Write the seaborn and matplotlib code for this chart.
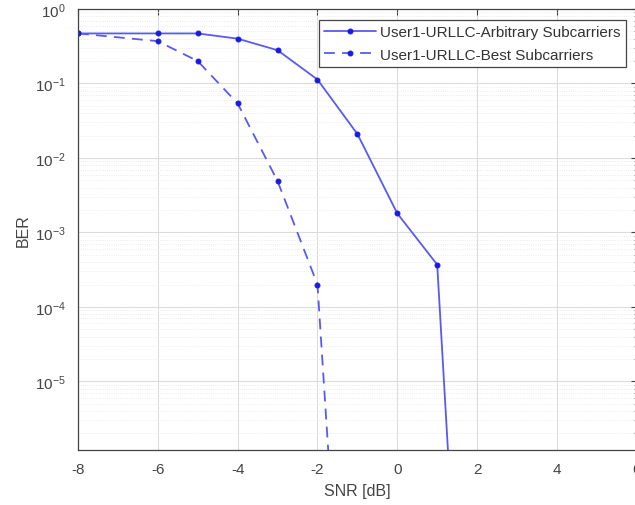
import numpy as np
import pandas as pd
import matplotlib
matplotlib.use("Agg")
import matplotlib.pyplot as plt
import seaborn as sns
from matplotlib.ticker import LogLocator, NullFormatter, FixedLocator

snr = [-8, -6, -5, -4, -3, -2, -1, 0, 1, 2]
ber_arbitrary = [0.47, 0.47, 0.47, 0.40, 0.28, 0.113, 0.021, 0.0018, 3.7e-4, 2e-13]
snr_best = [-8, -6, -5, -4, -3, -2, -1]
ber_best = [0.47, 0.37, 0.20, 0.054, 0.0049, 2.0e-4, 1.1e-12]
label_arbitrary = "User1-URLLC-Arbitrary Subcarriers"
label_best = "User1-URLLC-Best Subcarriers"
x_ticks = [-8, -6, -4, -2, 0, 2, 4, 6]

sns.set_style("white")
plt.rcParams['font.family'] = ['Liberation Sans', 'DejaVu Sans']
plt.rcParams['axes.unicode_minus'] = False

df_a = pd.DataFrame({"SNR": snr, "BER": ber_arbitrary})
df_b = pd.DataFrame({"SNR": snr_best, "BER": ber_best})

fig = plt.figure(figsize=(6.35, 5.06), dpi=100)
ax = fig.add_axes([0.1228, 0.1087, 0.880, 0.8715])

line_c = "#5a5af0"
mark_c = "#1a1ae0"
sns.lineplot(data=df_a, x="SNR", y="BER", ax=ax, color=line_c, linewidth=1.3,
             marker="o", markersize=3.5, markerfacecolor=mark_c, markeredgecolor=mark_c,
             label=label_arbitrary)
sns.lineplot(data=df_b, x="SNR", y="BER", ax=ax, color=line_c, linewidth=1.3,
             linestyle=(0, (6, 4)), marker="o", markersize=3.5, markerfacecolor=mark_c,
             markeredgecolor=mark_c, label=label_best)

ax.set_yscale("log")
ax.set_xlim(-8, 6)
ax.set_ylim(1.2e-6, 1)
ax.xaxis.set_major_locator(FixedLocator(x_ticks))
ax.set_xticklabels([str(t) for t in x_ticks])
ax.yaxis.set_major_locator(LogLocator(base=10, numticks=10))
ax.yaxis.set_minor_locator(LogLocator(base=10, subs=np.arange(2, 10), numticks=20))
ax.yaxis.set_minor_formatter(NullFormatter())

ax.grid(True, which="major", color="#dcdcdc", linewidth=0.8)
ax.grid(True, which="minor", axis="y", color="#e6e6e6", linewidth=0.6, linestyle=":")
ax.set_axisbelow(True)

for s in ax.spines.values():
    s.set_color("#444444")
    s.set_linewidth(0.9)
ax.tick_params(which="both", direction="in", top=True, right=True, colors="#444444",
               labelcolor="#444444", labelsize=11)
ax.tick_params(which="major", length=4)
ax.tick_params(which="minor", length=2)
ax.tick_params(axis="x", which="major", pad=9)
ax.tick_params(axis="y", which="major", pad=9)

ax.set_xlabel("SNR [dB]", fontsize=11.5, color="#444444", labelpad=5)
ax.set_ylabel("BER", fontsize=11.5, color="#444444", labelpad=3)

leg = ax.legend(loc="upper right", bbox_to_anchor=(0.9855, 0.9825), fontsize=11,
                frameon=True, fancybox=False, framealpha=1, edgecolor="#444444",
                borderpad=0.35, handlelength=3.4, handletextpad=0.25,
                labelspacing=0.55, borderaxespad=0.2)
leg.get_frame().set_linewidth(0.9)
for t in leg.get_texts():
    t.set_color("#333333")

fig.savefig("out.png", dpi=100)
